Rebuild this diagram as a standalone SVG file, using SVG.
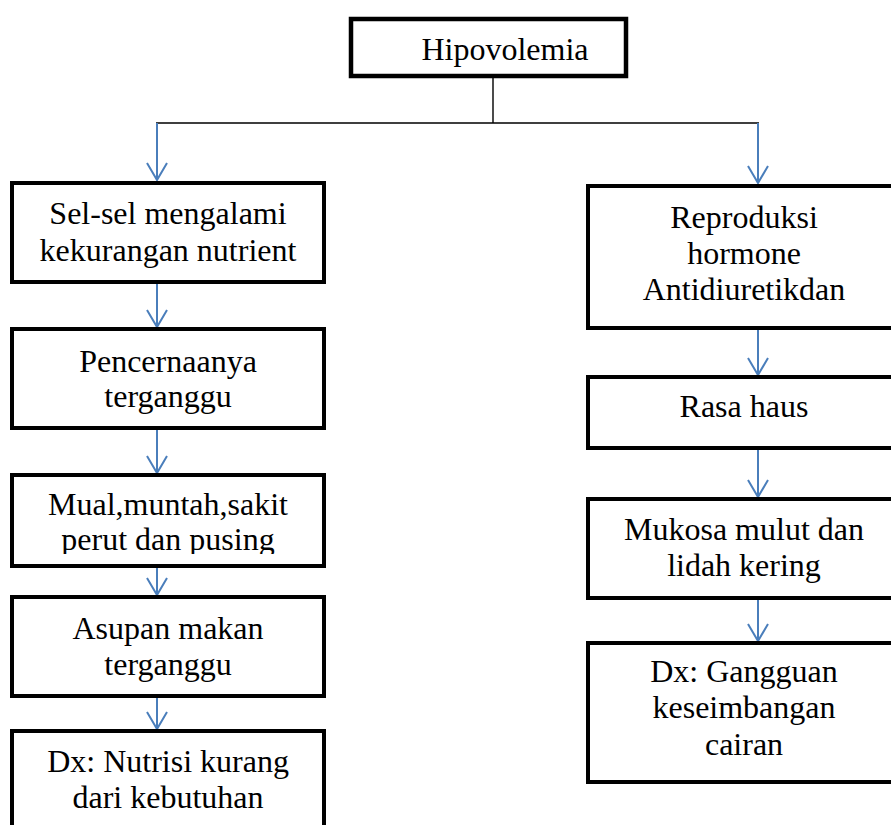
<svg xmlns="http://www.w3.org/2000/svg" width="891" height="825" viewBox="0 0 891 825">
<defs>
<style>
.box{fill:#fff;stroke:#000;stroke-width:4;}
.t{font-family:"Liberation Serif","Times New Roman",serif;font-size:32px;fill:#000;text-anchor:middle;}
.tree{fill:none;stroke:#000;stroke-width:1.4;}
.arr{fill:none;stroke:#4a7ebb;stroke-width:2;marker-end:url(#ah);}
</style>
<marker id="ah" markerUnits="userSpaceOnUse" viewBox="-2 -12 22 24" refX="17" refY="0" markerWidth="22" markerHeight="24" orient="auto">
<path d="M0,-10 L17,0 L0,10" fill="none" stroke="#4a7ebb" stroke-width="2"/>
</marker>
<clipPath id="c3"><rect x="14" y="477" width="308" height="77"/></clipPath>
</defs>
<rect width="891" height="825" fill="#fff"/>
<g id="connectors">
<path class="tree" d="M493,78 V123 M156,123 H759"/>
<path class="arr" d="M157,123 V180"/>
<path class="arr" d="M758,123 V183"/>
<path class="arr" d="M157,284 V327"/>
<path class="arr" d="M157,430 V473"/>
<path class="arr" d="M157,568 V595"/>
<path class="arr" d="M157,698 V729"/>
<path class="arr" d="M758,330 V375"/>
<path class="arr" d="M758,450 V497"/>
<path class="arr" d="M758,600 V641"/>
</g>
<g id="hipovolemia">
<rect class="box" x="351" y="19" width="275" height="57" style="stroke-width:4.5"/>
<text class="t" x="505" y="60">Hipovolemia</text>
</g>
<g id="sel-sel">
<rect class="box" x="12" y="183" width="312" height="99"/>
<text class="t" x="168" y="224">Sel-sel mengalami</text>
<text class="t" x="168" y="261">kekurangan nutrient </text>
</g>
<g id="pencernaan">
<rect class="box" x="12" y="329" width="312" height="99"/>
<text class="t" x="168" y="372">Pencernaanya</text>
<text class="t" x="168" y="407">terganggu</text>
</g>
<g id="mual">
<rect class="box" x="12" y="475" width="312" height="91"/>
<g clip-path="url(#c3)">
<text class="t" x="168" y="515">Mual,muntah,sakit</text>
<text class="t" x="168" y="550">perut dan pusing</text>
</g>
</g>
<g id="asupan">
<rect class="box" x="12" y="597" width="312" height="99"/>
<text class="t" x="168" y="639">Asupan makan</text>
<text class="t" x="168" y="675">terganggu</text>
</g>
<g id="dx-nutrisi">
<rect class="box" x="12" y="731" width="312" height="120"/>
<text class="t" x="168" y="772">Dx: Nutrisi kurang</text>
<text class="t" x="168" y="808">dari kebutuhan</text>
</g>
<g id="reproduksi">
<rect class="box" x="588" y="186" width="312" height="142"/>
<text class="t" x="744" y="228">Reproduksi</text>
<text class="t" x="744" y="264">hormone</text>
<text class="t" x="744" y="300">Antidiuretikdan</text>
</g>
<g id="rasa-haus">
<rect class="box" x="588" y="377" width="312" height="71"/>
<text class="t" x="744" y="417">Rasa haus</text>
</g>
<g id="mukosa">
<rect class="box" x="588" y="499" width="312" height="99"/>
<text class="t" x="744" y="540">Mukosa mulut dan</text>
<text class="t" x="744" y="576">lidah kering</text>
</g>
<g id="dx-cairan">
<rect class="box" x="588" y="643" width="312" height="139"/>
<text class="t" x="744" y="682">Dx: Gangguan</text>
<text class="t" x="744" y="718">keseimbangan</text>
<text class="t" x="744" y="755">cairan</text>
</g>
</svg>
